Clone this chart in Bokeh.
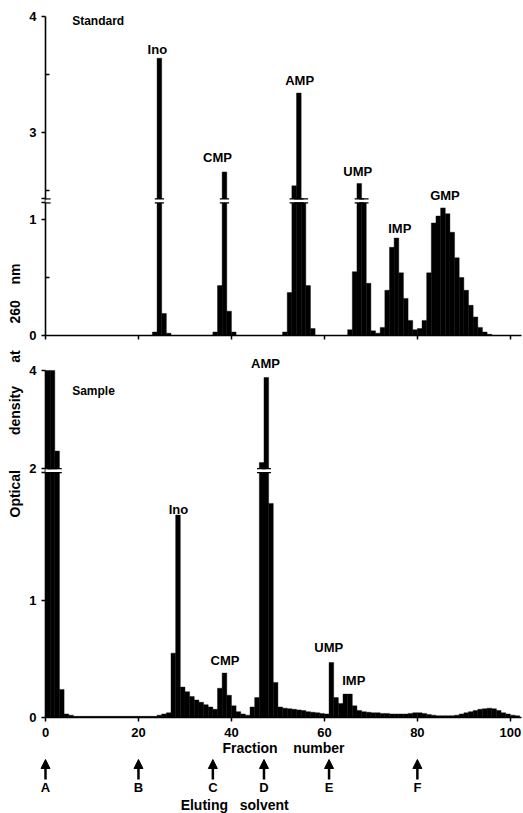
from bokeh.plotting import figure
from bokeh.models import ColumnDataSource, FixedTicker, Arrow, NormalHead, Range1d, Title
from bokeh.layouts import column, row
from bokeh.embed import file_html
from bokeh.resources import INLINE
from bokeh.core.properties import value

FONT = "Liberation Sans"
NB = "\u00a0"

# ---------------- data ----------------
# Standard panel: fraction number -> optical density at 260 nm
std_fraction = [24, 25, 26, 27,
                37, 38, 39, 40, 41,
                52, 53, 54, 55, 56, 57, 58,
                66, 67, 68, 69, 70, 71, 72,
                73, 74, 75, 76, 77, 78, 79, 80,
                81, 82, 83, 84, 85, 86, 87, 88, 89, 90, 91, 92, 93, 94, 95, 96]
std_od = [0.03, 3.64, 0.19, 0.02,
          0.03, 0.43, 2.66, 0.21, 0.03,
          0.03, 0.37, 2.54, 3.34, 1.50, 0.43, 0.06,
          0.05, 0.55, 2.56, 1.50, 0.45, 0.04, 0.02,
          0.07, 0.39, 0.76, 0.84, 0.54, 0.32, 0.13, 0.05,
          0.06, 0.13, 0.54, 0.97, 1.03, 1.10, 1.05, 0.89, 0.67, 0.50, 0.39, 0.26, 0.16, 0.07, 0.03, 0.01]

# Sample panel
smp_fraction = list(range(1, 103))
smp_od = [4.0, 4.0, 2.39, 0.24, 0.03, 0.02,
          0.01, 0.01, 0.01, 0.01, 0.01, 0.01, 0.01, 0.01, 0.01, 0.01,
          0.01, 0.01, 0.01, 0.01, 0.01, 0.01, 0.01, 0.01,
          0.02, 0.03, 0.04,
          0.55, 1.73, 0.26, 0.22, 0.18, 0.15, 0.13, 0.11, 0.09, 0.07,
          0.25, 0.38, 0.19, 0.10, 0.05, 0.03, 0.02, 0.09, 0.17,
          2.16, 3.86, 1.83, 0.30, 0.09, 0.08, 0.075, 0.07, 0.065, 0.06,
          0.05, 0.045, 0.04, 0.035, 0.03,
          0.47, 0.17, 0.12, 0.20, 0.20, 0.10, 0.06, 0.05, 0.045, 0.04,
          0.04, 0.035, 0.035, 0.03, 0.03, 0.03, 0.03, 0.035, 0.04, 0.04,
          0.035, 0.025, 0.02, 0.015, 0.015, 0.015, 0.015, 0.02, 0.03, 0.04,
          0.05, 0.06, 0.07, 0.075, 0.08, 0.075, 0.06, 0.04, 0.03, 0.02, 0.015]

std_peak_names = ["Ino", "CMP", "AMP", "UMP", "IMP", "GMP"]
std_peak_x = [24.06, 36.99, 54.67, 67.18, 76.22, 85.93]
std_peak_y = [3.65, 2.72, 3.38, 2.60, 0.86, 1.14]

smp_peak_names = ["AMP", "Ino", "CMP", "UMP", "IMP"]
smp_peak_x = [47.34, 28.59, 38.61, 60.92, 66.32]
smp_peak_y = [3.98, 1.71, 0.427, 0.53, 0.248]

x_ticks = [0, 20, 40, 60, 80, 100]
std_y_major = [0, 1, 3, 4]
std_y_minor = [0.5, 2.5, 3.5]
smp_y_major = [0, 1, 4]
smp_y_minor = [0.5, 1.5, 2.66]

solvent_names = ["A", "B", "C", "D", "E", "F"]
solvent_fraction = [0, 20, 36, 47, 61, 80]

y_title_top = "260" + NB * 4 + "nm"
y_title_bottom = "Optical" + NB * 9 + "density" + NB * 6 + "at"
x_title = "Fraction" + NB * 4 + "number"
solvent_title = "Eluting" + NB * 3 + "solvent"


# ---------------- broken-axis transforms ----------------
STD_BREAK = 1.16


def std_display(v):
    if v <= 1.16:
        return v
    if v < 2.41:
        return 1.16
    return v - 1.25


SMP_BREAK = 2.11


def smp_display(v):
    if v < 2.0:
        return v
    return 2.11 + (v - 2.0) * 0.428


X_END = 102.4
FRAME_W = 476
LEFT = 45
PX_PER_FRACTION = FRAME_W / X_END
XR = Range1d(0, X_END)


def style_common(p):
    p.grid.visible = False
    p.outline_line_color = None
    p.background_fill_color = "white"
    p.border_fill_color = "white"


def make_panel(fracs, ods, disp, brk, y_end, frame_h, majors, minors, min_bottom,
               show_x_labels, name_txt, peak_names, peak_x, peak_y, ytitle, ytitle_offset,
               brk_label):
    p = figure(frame_width=FRAME_W, frame_height=frame_h, x_range=XR,
               y_range=Range1d(0, y_end), output_backend="svg", toolbar_location=None,
               min_border_left=LEFT, min_border_right=2, min_border_top=0,
               min_border_bottom=min_bottom)
    style_common(p)
    px_per_unit = frame_h / y_end
    tops = [disp(v) for v in ods]
    src = ColumnDataSource(dict(left=[f - 1 for f in fracs], right=fracs,
                                top=tops, bottom=[0] * len(fracs)))
    p.quad(left="left", right="right", top="top", bottom="bottom", source=src,
           fill_color="black", line_color="black", line_width=0.4)

    # break marks on bars crossing the break
    cross = [f for f, t in zip(fracs, tops) if t >= brk - 1e-9]
    d = 2.0 / px_per_unit
    wl = [f - 1 - 0.5 for f in cross]
    wr = [f + 0.5 for f in cross]
    n = len(cross)
    p.quad(left=wl, right=wr, bottom=[brk - d] * n, top=[brk + d] * n,
           fill_color="white", line_color=None)
    p.segment(x0=wl + wl, y0=[brk - d] * n + [brk + d] * n,
              x1=wr + wr, y1=[brk - d] * n + [brk + d] * n,
              line_color="black", line_width=1.2)
    # break mark on the y axis (inner half; the outer half are axis ticks)
    p.quad(left=[0], right=[0.3], bottom=[brk - d + 0.004], top=[brk + d - 0.004],
           fill_color="white", line_color=None, level="overlay")
    p.segment(x0=[0, 0], y0=[brk - d, brk + d], x1=[1.1, 1.1], y1=[brk - d, brk + d],
              line_color="black", line_width=1.2, level="overlay")

    # axes
    maj_d = [round(disp(v), 4) for v in majors]
    b_lo, b_hi = round(brk - d, 4), round(brk + d, 4)
    overrides = {m: str(v) for m, v in zip(maj_d, majors)}
    overrides[b_lo] = ""
    overrides[b_hi] = brk_label
    p.yaxis.ticker = FixedTicker(ticks=sorted(maj_d + [b_lo, b_hi]),
                                 minor_ticks=[round(disp(v), 4) for v in minors])
    p.yaxis.major_label_overrides = overrides
    p.yaxis.bounds = (0, disp(4))
    p.yaxis.major_tick_out = 4
    p.yaxis.major_tick_in = 0
    p.yaxis.minor_tick_in = 4
    p.yaxis.minor_tick_out = 0
    p.xaxis.ticker = FixedTicker(ticks=x_ticks, minor_ticks=[])
    p.xaxis.bounds = (0, X_END)
    p.xaxis.major_tick_out = 4
    p.xaxis.major_tick_in = 0
    for ax in (p.xaxis[0], p.yaxis[0]):
        ax.axis_line_width = 1.6
        ax.major_tick_line_width = 1.5
        ax.minor_tick_line_width = 1.5
        ax.major_label_text_font = FONT
        ax.major_label_text_font_style = "bold"
        ax.major_label_text_font_size = "13px"
        ax.major_label_text_color = "black"
        ax.axis_line_color = "black"
        ax.major_tick_line_color = "black"
        ax.minor_tick_line_color = "black"
    p.yaxis.major_label_standoff = 5
    if show_x_labels:
        p.xaxis.major_label_standoff = 6
        p.xaxis.axis_label = x_title
        p.xaxis.axis_label_text_font = FONT
        p.xaxis.axis_label_text_font_style = "bold"
        p.xaxis.axis_label_text_font_size = "14px"
        p.xaxis.axis_label_text_color = "black"
        p.xaxis.axis_label_standoff = 0
    else:
        p.xaxis.major_label_overrides = {t: "" for t in x_ticks}
        p.xaxis.major_label_standoff = 0

    # y title words (one title shared over the two panels)
    p.add_layout(Title(text=ytitle, align="left", offset=ytitle_offset, text_font=FONT,
                       text_font_style="bold", text_font_size="14px",
                       text_color="black", standoff=8), "left")

    # panel name and peak labels
    p.text(x=[5.73], y=[disp(name_txt[1])], text=[name_txt[0]], text_font=value(FONT),
           text_font_style="bold", text_font_size="12px", text_align="left",
           text_baseline="bottom", text_color="black")
    lsrc = ColumnDataSource(dict(x=peak_x, y=[disp(v) for v in peak_y], t=peak_names))
    p.text(x="x", y="y", text="t", source=lsrc, text_font=value(FONT),
           text_font_style="bold", text_font_size="13px", text_align="center",
           text_baseline="bottom", text_color="black")
    return p


top = make_panel(std_fraction, std_od, std_display, STD_BREAK, 335 / 116, 335, std_y_major,
                 std_y_minor, 12, False, ("Standard", 3.90),
                 std_peak_names, std_peak_x, std_peak_y, y_title_top, 12, "")
bot = make_panel(smp_fraction, smp_od, smp_display, SMP_BREAK, 370 / 117, 370, smp_y_major,
                 smp_y_minor, 40, True, ("Sample", 3.46),
                 smp_peak_names, smp_peak_x, smp_peak_y, y_title_bottom, 200, "2")

# eluting solvent arrows (same horizontal scale, frame widened to the left edge)
arr_w = FRAME_W + LEFT
arr = figure(frame_width=arr_w, frame_height=55,
             x_range=Range1d(-LEFT / PX_PER_FRACTION, X_END), y_range=Range1d(0, 55),
             output_backend="svg", toolbar_location=None, x_axis_location=None,
             y_axis_location=None, min_border_left=0, min_border_right=2,
             min_border_top=0, min_border_bottom=0)
style_common(arr)
asrc = ColumnDataSource(dict(x=solvent_fraction, y0=[34] * len(solvent_fraction),
                             y1=[54] * len(solvent_fraction), t=solvent_names,
                             ty=[26] * len(solvent_fraction)))
arr.add_layout(Arrow(end=NormalHead(size=9, fill_color="black", line_color="black"),
                     x_start="x", y_start="y0", x_end="x", y_end="y1", source=asrc,
                     line_width=2.5, line_color="black"))
arr.text(x="x", y="ty", text="t", source=asrc, text_font=value(FONT), text_font_style="bold",
         text_font_size="13px", text_align="center", text_baseline="middle", text_color="black")
arr.text(x=[40.7], y=[9], text=[solvent_title], text_font=value(FONT),
         text_font_style="bold", text_font_size="14px", text_align="center",
         text_baseline="middle", text_color="black")

layout = column(top, bot, row(arr), spacing=0)
open("out.html", "w").write(file_html(layout, INLINE))
